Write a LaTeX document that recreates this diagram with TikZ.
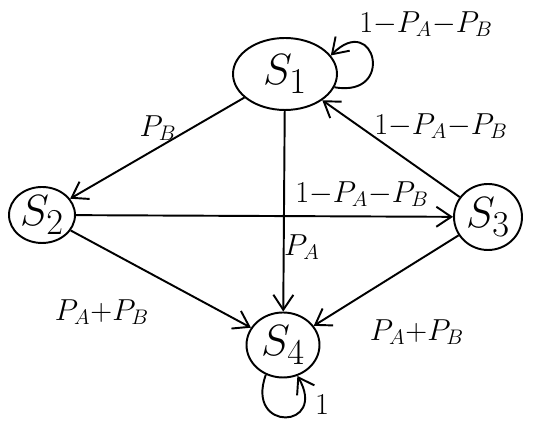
\documentclass[tikz,border=0pt]{standalone}
\usetikzlibrary{shapes.geometric,arrows.meta}
\begin{document}
\begin{tikzpicture}[x=0.02cm, y=-0.02cm, line width=1.1pt,
	state/.style={draw, ellipse, inner sep=0pt, font=\Huge},
	lbl/.style={font=\LARGE},
	>={Straight Barb[length=3mm, width=4mm]}]
	\useasboundingbox (0,0) rectangle (542,421);
	
	\node[state, minimum width=2.08cm, minimum height=1.44cm] (s1) at (285,74) {$S_1$};
	\node[state, minimum width=1.32cm, minimum height=1.12cm] (s2) at (42,215) {$S_2$};
	\node[state, minimum width=1.36cm, minimum height=1.32cm] (s3) at (488,217) {$S_3$};
	\node[state, minimum width=1.46cm, minimum height=1.30cm] (s4) at (283,345) {$S_4$};
	
	\draw[->] (s1) -- (s2);
	\draw[->] (s1) -- (s4);
	\draw[->] (s3) -- (s1);
	\draw[->] (s2) -- (s3);
	\draw[->] (s2) -- (s4);
	\draw[->] (s3) -- (s4);
	\draw[->] (s1.-15) to[out=-10, in=45, looseness=5] (s1.22);
	\draw[->] (s4.-120) to[out=-110, in=-60, looseness=5] (s4.-65);
	
	\node[lbl] (l11) at (426,24) {$1{-}P_A{-}P_B$};
	\node[lbl] (l12) at (158,128) {$P_B$};
	\node[lbl] (l31) at (441,126) {$1{-}P_A{-}P_B$};
	\node[lbl] (l23) at (362,194) {$1{-}P_A{-}P_B$};
	\node[lbl] (l14) at (302,247) {$P_A$};
	\node[lbl] (l24) at (102,312) {$P_A{+}P_B$};
	\node[lbl] (l34) at (417,332) {$P_A{+}P_B$};
	\node[lbl] (l44) at (322,405) {$1$};
	
\end{tikzpicture}
\end{document}
